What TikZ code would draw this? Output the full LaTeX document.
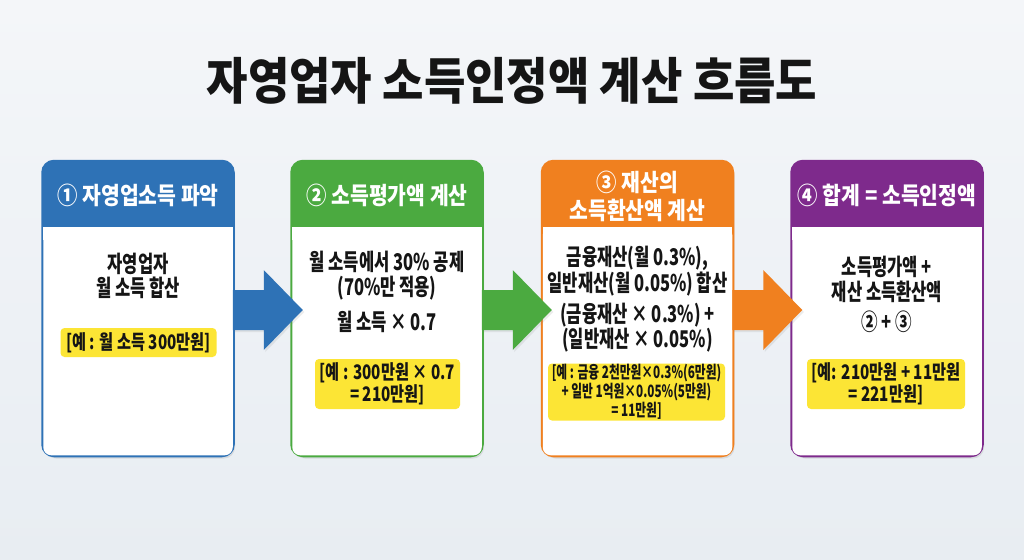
\documentclass[tikz,border=0pt]{standalone}
\usepackage{fontspec}
\setmainfont{Noto Sans CJK KR}
\newfontfamily\headfont{Noto Sans CJK KR}[FakeStretch=0.85]
\newfontfamily\krfont{Noto Sans CJK KR}[FakeStretch=0.72]
\newfontfamily\notefont{Noto Sans CJK KR}[FakeStretch=0.76]
\newfontfamily\smallnotefont{Noto Sans CJK KR}[FakeStretch=0.69]
\newfontfamily\titlefont{Noto Sans CJK KR}[FakeStretch=0.9]
\usetikzlibrary{calc,shadows}
\definecolor{blueC}{HTML}{2E72B6}
\definecolor{greenC}{HTML}{4BAA40}
\definecolor{orangeC}{HTML}{F0801F}
\definecolor{purpleC}{HTML}{7E2A8C}
\definecolor{yellowC}{HTML}{FCE535}
\definecolor{bgTop}{HTML}{F4F6F9}
\definecolor{bgBot}{HTML}{E8EDF2}
\definecolor{ink}{HTML}{151515}
\tikzset{
  card/.style={draw=#1, line width=3.5pt, fill=#1, rounded corners=11pt,
    minimum width=190pt, minimum height=294pt, inner sep=0pt,
    drop shadow={opacity=0.18, shadow xshift=2pt, shadow yshift=-3pt}},
  headtext/.style={text=white, font=\headfont\bfseries\fontsize{24}{28}\selectfont, align=center},
  bodytext/.style={text=ink, font=\krfont\bfseries\fontsize{23}{24.5}\selectfont, align=center},
  note/.style={fill=yellowC, rounded corners=4pt, text=ink, align=center, inner sep=0pt,
    font=\notefont\bfseries\fontsize{20}{22}\selectfont},
  smallnote/.style={note, font=\smallnotefont\bfseries\fontsize{17}{19}\selectfont},
}
\newcommand\flowarrow[2]{%
  \fill[#2, drop shadow={opacity=0.15, shadow xshift=1.5pt, shadow yshift=-2pt}]
    ($(#1.east)+(-2,-18.5)$) -- ($(#1.east)+(29,-18.5)$) -- ($(#1.east)+(29,-38.5)$)
    -- ($(#1.east)+(68,1.5)$) -- ($(#1.east)+(29,41.5)$) -- ($(#1.east)+(29,21.5)$)
    -- ($(#1.east)+(-2,21.5)$) -- cycle;}
\newcommand\cardbody[1]{%
  \fill[white, rounded corners=8pt] ($(#1.south west)+(2,-2)$) rectangle ($(#1.east |- 0,227)+(-2,0)$);
  \fill[white] ($(#1.west |- 0,227)+(2,0)$) rectangle ($(#1.east |- 0,240)+(-2,0)$);}
\begin{document}
\begin{tikzpicture}[x=1pt,y=-1pt]
\shade[top color=bgTop, bottom color=bgBot] (0,0) rectangle (1024,559);
\useasboundingbox (0,0) rectangle (1024,559);

\node[font=\titlefont\bfseries\fontsize{50}{54}\selectfont, text=ink] (title) at (512,81) {자영업자 소득인정액 계산 흐름도};

% cards
\node[card=blueC] (b1) at (138,308.5) {};
\node[card=greenC] (b2) at (387,308.5) {};
\node[card=orangeC] (b3) at (637.5,308.5) {};
\node[card=purpleC] (b4) at (887,308.5) {};
\cardbody{b1}
\cardbody{b2}
\cardbody{b3}
\cardbody{b4}

% headers
\node[headtext] (h1) at (138,195) {① 자영업소득 파악};
\node[headtext] (h2) at (387,195) {② 소득평가액 계산};
\node[headtext] (h3) at (637.5,196) {③ 재산의\\소득환산액 계산};
\node[headtext] (h4) at (887,195) {④ 합계 = 소득인정액};

% card 1
\node[bodytext] (t1) at (138,276) {자영업자\\월 소득 합산};
\node[note, minimum width=156pt, minimum height=29pt] (n1) at (138.5,342.5) {[예 : 월 소득 300만원]};

% card 2
\node[bodytext] (t2a) at (387,275.5) {월 소득에서 30\% 공제\\(70\%만 적용)};
\node[bodytext] (t2b) at (387,322) {월 소득 × 0.7};
\node[note, minimum width=145pt, minimum height=50pt] (n2) at (387.5,384) {[예 : 300만원 × 0.7\\= 210만원]};

% card 3
\node[bodytext] (t3a) at (637.5,271) {금융재산(월 0.3\%),\\일반재산(월 0.05\%) 합산};
\node[bodytext] (t3b) at (637.5,327.5) {(금융재산 × 0.3\%) +\\(일반재산 × 0.05\%)};
\node[smallnote, minimum width=177pt, minimum height=57pt] (n3) at (636.5,392) {[예 : 금융 2천만원×0.3\%(6만원)\\+ 일반 1억원×0.05\%(5만원)\\= 11만원]};

% card 4
\node[bodytext] (t4a) at (887,279.5) {소득평가액 +\\재산 소득환산액};
\node[bodytext] (t4b) at (887,321.5) {② + ③};
\node[note, minimum width=158pt, minimum height=50pt] (n4) at (886,384) {[예: 210만원 + 11만원\\= 221만원]};

% arrows
\flowarrow{b1}{blueC}
\flowarrow{b2}{greenC}
\flowarrow{b3}{orangeC}
\end{tikzpicture}
\end{document}
